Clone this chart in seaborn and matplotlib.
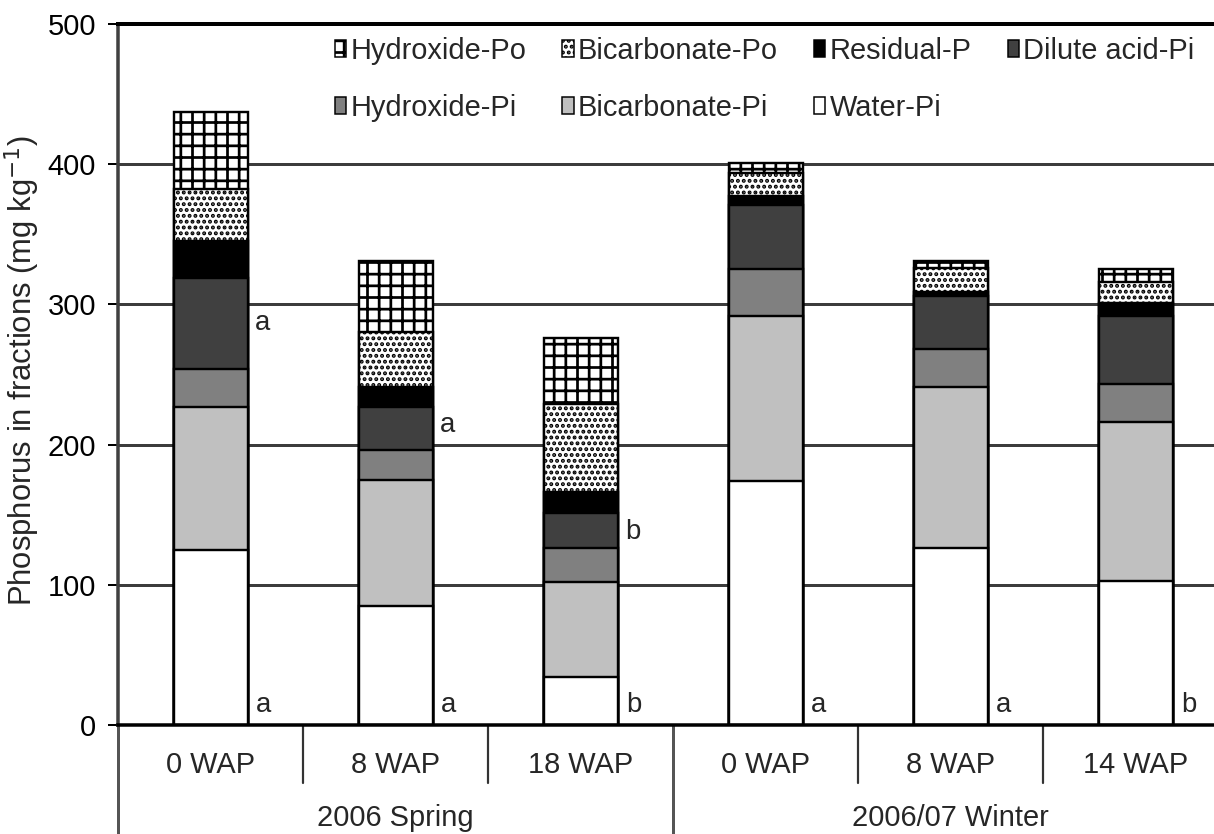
import matplotlib
matplotlib.use("Agg")
import matplotlib.pyplot as plt
import matplotlib.transforms as mtransforms
from matplotlib.patches import Patch
import seaborn as sns
from matplotlib import font_manager

# ---------------- data ----------------
ids = ["S0", "S8", "S18", "W0", "W8", "W14"]
wap_labels = ["0 WAP", "8 WAP", "18 WAP", "0 WAP", "8 WAP", "14 WAP"]
season_labels = ["2006 Spring", "2006/07 Winter"]

water_pi = [125, 85, 34, 174, 126, 103]
bicarbonate_pi = [102, 90, 68, 118, 115, 113]
hydroxide_pi = [27, 21, 24, 33, 27, 27]
dilute_acid_pi = [65, 31, 25, 46, 38, 49]
residual_p = [26, 14, 15, 6, 3, 9]
bicarbonate_po = [37, 39, 63, 17, 17, 15]
hydroxide_po = [55, 51, 47, 7, 5, 9]

lower_letters = ["a", "a", "b", "a", "a", "b"]
upper_letters = ["a", "a", "b"]
upper_letter_y = [282, 209, 133]

# ---------------- style ----------------
DPI = 70
sns.set_theme(style="white")
avail = {f.name for f in font_manager.fontManager.ttflist}
fams = [f for f in ["Liberation Sans Narrow", "Liberation Sans", "DejaVu Sans"] if f in avail]
plt.rcParams["font.family"] = fams
plt.rcParams["hatch.linewidth"] = 2.8
plt.rcParams["hatch.color"] = "black"

def px(p):
    return p * 72.0 / DPI

FS = px(29)

fig = plt.figure(figsize=(1214 / DPI, 834 / DPI), dpi=DPI)
W, H = 1214.0, 834.0
ax_left, ax_right, ax_top, ax_bot = 118, 1228, 24, 725
ax = fig.add_axes([ax_left / W, 1 - ax_bot / H, (ax_right - ax_left) / W, (ax_bot - ax_top) / H])

# cumulative stacks
layers = [
    ("Water-Pi", water_pi, "white", None),
    ("Bicarbonate-Pi", bicarbonate_pi, "#c0c0c0", None),
    ("Hydroxide-Pi", hydroxide_pi, "#808080", None),
    ("Dilute acid-Pi", dilute_acid_pi, "#404040", None),
    ("Residual-P", residual_p, "black", None),
    ("Bicarbonate-Po", bicarbonate_po, "white", ".."),
    ("Hydroxide-Po", hydroxide_po, "white", "+"),
]
cums = []
run = [0] * len(ids)
for name, vals, col, hat in layers:
    run = [r + v for r, v in zip(run, vals)]
    cums.append(list(run))

for (name, vals, col, hat), cum in reversed(list(zip(layers, cums))):
    sns.barplot(x=ids, y=cum, order=ids, color=col, saturation=1, width=0.4,
                errorbar=None, edgecolor="black", linewidth=px(2.4),
                hatch=hat, ax=ax, zorder=3)

ax.set_xlim(-0.5, 5.5)
ax.set_ylim(0, 500)
ax.set_yticks([0, 100, 200, 300, 400, 500])
ax.set_xticks([])
ax.set_xlabel("")
ax.set_ylabel("Phosphorus in fractions (mg kg$^{-1}$)", fontsize=px(31))
ax.yaxis.set_label_coords(-(118 - 42) / 1110, 0.505)
ax.tick_params(axis="y", direction="out", length=px(10), width=px(2), color="black",
               pad=px(12), labelsize=FS, left=True)
for lab in ax.get_yticklabels():
    lab.set_color("black")

# grid
for g in [100, 200, 300, 400]:
    ax.axhline(g, color="#3c3c3c", lw=px(3), zorder=1)

ax.spines["right"].set_visible(False)
ax.spines["top"].set_color("black")
ax.spines["top"].set_linewidth(px(4))
ax.spines["bottom"].set_color("black")
ax.spines["bottom"].set_linewidth(px(3.5))
ax.spines["left"].set_color("#404040")
ax.spines["left"].set_linewidth(px(3.5))
ax.spines["bottom"].set_zorder(5)

# significance letters
for i, l in enumerate(lower_letters):
    ax.text(i + 0.245, 9, l, fontsize=FS * 0.95, ha="left", va="baseline", zorder=6)
for i, (l, yv) in enumerate(zip(upper_letters, upper_letter_y)):
    ax.text(i + 0.24, yv, l, fontsize=FS * 0.95, ha="left", va="baseline", zorder=6)

# two-level category axis
trans = mtransforms.blended_transform_factory(ax.transData, fig.transFigure)
def fy(p):
    return 1 - p / H
for xd in [0.5, 1.5, 3.5, 4.5]:
    ax.plot([xd, xd], [fy(725), fy(783)], transform=trans, color="#333333",
            lw=px(2.2), clip_on=False)
for xd in [-0.5, 2.5]:
    ax.plot([xd, xd], [fy(725), fy(834)], transform=trans, color="#555555",
            lw=px(3), clip_on=False)
for i, l in enumerate(wap_labels):
    t = fig.text(0, 0, l, transform=trans, fontsize=FS, ha="center", va="baseline")
    t.set_position((i, fy(773)))
for j, l in enumerate(season_labels):
    t = fig.text(0, 0, l, transform=trans, fontsize=FS, ha="center", va="baseline")
    t.set_position((1 + 3 * j, fy(826)))

# legend
hmap = {name: Patch(facecolor=col, edgecolor="black", hatch=hat, linewidth=px(1.5))
        for name, vals, col, hat in layers}
order = ["Hydroxide-Po", "Hydroxide-Pi", "Bicarbonate-Po", "Bicarbonate-Pi",
         "Residual-P", "Water-Pi", "Dilute acid-Pi"]
leg = fig.legend([hmap[n] for n in order], order, ncol=4, loc="upper left",
                 bbox_to_anchor=(335 / W, 1 - 37 / H), frameon=False, fontsize=FS,
                 handlelength=0.38, handleheight=0.5, handletextpad=0.15,
                 columnspacing=1.25, labelspacing=1.0, borderpad=0, borderaxespad=0)

fig.savefig("out.png", dpi=DPI)
